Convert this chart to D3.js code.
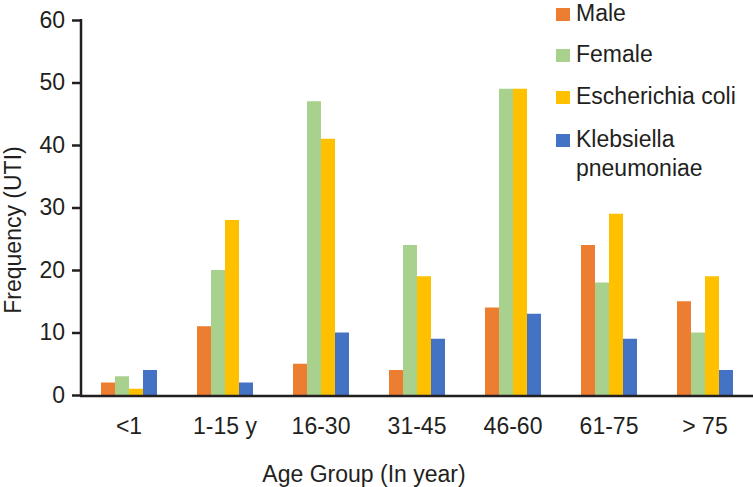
<!DOCTYPE html>
<html><head><meta charset="utf-8">
<script src="https://cdn.jsdelivr.net/npm/d3@7"></script>
<style>body{margin:0;background:#fff}svg{display:block;font-family:"Liberation Sans",Arial,sans-serif}</style>
</head><body><svg id="c" width="753" height="487"></svg>
<script>
const categories = ["<1","1-15 y","16-30","31-45","46-60","61-75","> 75"];
const seriesNames = ["Male","Female","Escherichia coli","Klebsiella pneumoniae"];
const male    = [2,11,5,4,14,24,15];
const female  = [3,20,47,24,49,18,10];
const ecoli   = [1,28,41,19,49,29,19];
const kleb    = [4,2,10,9,13,9,4];
const yTicks  = [0,10,20,30,40,50,60];
const colors  = ["#ED7D31","#A9D18E","#FFC000","#4472C4"];
const series = [male,female,ecoli,kleb];
const FS = 23, TXT = "#231f20";

const svg = d3.select("#c");
const x0 = d3.scaleBand().domain(categories).range([81,753]).paddingInner(0).paddingOuter(0);
const x1 = d3.scaleBand().domain(d3.range(4)).range([0,56]);
const y = d3.scaleLinear().domain([0,60]).range([395,20]);

const g = svg.append("g");
categories.forEach((c,i)=>{
  const gx = x0(c) + (x0.bandwidth()-56)/2;
  series.forEach((s,j)=>{
    g.append("rect").attr("x",gx+x1(j)).attr("width",x1.bandwidth())
      .attr("y",y(s[i])).attr("height",y(0)-y(s[i])).attr("fill",colors[j]);
  });
});

const yAxis = svg.append("g").attr("transform","translate(81,0)")
  .call(d3.axisLeft(y).tickValues(yTicks).tickSize(9).tickPadding(7));
yAxis.select(".domain").attr("stroke",TXT).attr("stroke-width",2.5).attr("d","M0,19V395");
yAxis.selectAll(".tick line").attr("stroke",TXT).attr("stroke-width",2.5);
yAxis.selectAll("text").attr("font-size",FS).attr("fill",TXT).attr("font-family","Liberation Sans, Arial, sans-serif");

const xAxis = svg.append("g").attr("transform","translate(0,396)")
  .call(d3.axisBottom(x0).tickSize(0).tickPadding(22));
xAxis.select(".domain").attr("stroke",TXT).attr("stroke-width",2.5).attr("d","M80,0H753");
xAxis.selectAll("text").attr("font-size",FS).attr("fill",TXT).attr("font-family","Liberation Sans, Arial, sans-serif");

svg.append("text").attr("x",364).attr("y",482).attr("text-anchor","middle")
  .attr("font-size",FS).attr("fill",TXT).text("Age Group (In year)");
svg.append("text").attr("transform","translate(21,230) rotate(-90)").attr("text-anchor","middle")
  .attr("font-size",FS).attr("fill",TXT).text("Frequency (UTI)");

const legY = [21,62,104,147];
seriesNames.forEach((n,j)=>{
  svg.append("rect").attr("x",556).attr("y",legY[j]-13).attr("width",14).attr("height",13).attr("fill",colors[j]);
  const t = svg.append("text").attr("x",576).attr("y",legY[j]).attr("font-size",FS).attr("fill",TXT);
  if(j===3){
    t.append("tspan").attr("x",576).text("Klebsiella");
    t.append("tspan").attr("x",576).attr("dy",29).text("pneumoniae");
  } else t.text(n);
});
</script></body></html>
